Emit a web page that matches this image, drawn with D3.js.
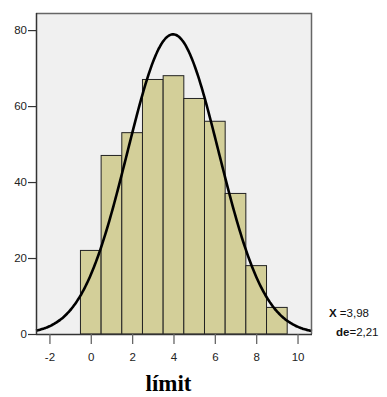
<!DOCTYPE html>
<html>
<head>
<meta charset="utf-8">
<script src="https://cdn.jsdelivr.net/npm/d3@7"></script>
<style>
  body { margin: 0; background: #fff; }
  svg { display: block; }
</style>
</head>
<body>
<svg id="chart"></svg>
<script>
const width = 387;
const height = 397;

// histogram bins (centres) and counts
const binCenters = [0, 1, 2, 3, 4, 5, 6, 7, 8, 9];
const counts = [22, 47, 53, 67, 68, 62, 56, 37, 18, 7];
const xTicks = [-2, 0, 2, 4, 6, 8, 10];
const yTicks = [0, 20, 40, 60, 80];
const mean = 3.98;
const sd = 2.21;
const meanLabel = '3,98';
const sdLabel = '2,21';
const title = 'límit';

const plot = { left: 36, right: 312, top: 13, bottom: 334 };

const svg = d3.select('#chart').attr('width', width).attr('height', height);

const x = d3.scaleLinear().domain([-2.65, 10.7]).range([plot.left, plot.right]);
const y = d3.scaleLinear().domain([0, 84.5]).range([plot.bottom, plot.top]);

// plot background
svg.append('rect')
  .attr('x', plot.left).attr('y', plot.top)
  .attr('width', plot.right - plot.left).attr('height', plot.bottom - plot.top)
  .attr('fill', '#f0f0f0');

// bars
svg.selectAll('rect.bar').data(binCenters).enter().append('rect')
  .attr('class', 'bar')
  .attr('x', d => x(d - 0.5))
  .attr('width', d => x(d + 0.5) - x(d - 0.5))
  .attr('y', (d, i) => y(counts[i]))
  .attr('height', (d, i) => y(0) - y(counts[i]))
  .attr('fill', '#d3cf99')
  .attr('stroke', '#222')
  .attr('stroke-width', 1);

// fitted normal curve
const total = d3.sum(counts);
const pdf = v => total * Math.exp(-0.5 * ((v - mean) / sd) ** 2) / (sd * Math.sqrt(2 * Math.PI));
const curveX = d3.range(x.domain()[0], x.domain()[1] + 0.001, 0.05);
svg.append('path')
  .datum(curveX)
  .attr('fill', 'none')
  .attr('stroke', '#000')
  .attr('stroke-width', 2.6)
  .attr('d', d3.line().x(d => x(d)).y(d => y(pdf(d))).curve(d3.curveBasis));

// frame: top and right grey
svg.append('path')
  .attr('d', `M${plot.left},${plot.top + 0.5}H${plot.right - 0.5}V${plot.bottom}`)
  .attr('fill', 'none')
  .attr('stroke', '#666')
  .attr('stroke-width', 1.5);

// axes
const fmt = d => String(d);
const xAxis = svg.append('g')
  .attr('transform', `translate(0,${plot.bottom})`)
  .call(d3.axisBottom(x).tickValues(xTicks).tickFormat(fmt).tickSize(10).tickPadding(9).tickSizeOuter(0));
const yAxis = svg.append('g')
  .attr('transform', `translate(${plot.left},0)`)
  .call(d3.axisLeft(y).tickValues(yTicks).tickFormat(fmt).tickSize(8).tickPadding(1).tickSizeOuter(0));

[xAxis, yAxis].forEach(g => {
  g.select('.domain').attr('stroke', '#333').attr('stroke-width', 1.5);
  g.selectAll('.tick text')
    .attr('font-family', 'Liberation Sans, Arial, sans-serif')
    .attr('font-size', 11.5)
    .attr('fill', '#222');
});
xAxis.selectAll('.tick line').attr('stroke', '#666').attr('stroke-width', 1.3);
yAxis.selectAll('.tick line').attr('stroke', '#333').attr('stroke-width', 1.2);
xAxis.select('.domain').attr('d', `M${plot.left},0.5H${plot.right}`);
yAxis.select('.domain').attr('d', `M0.5,${plot.top}V${plot.bottom}`);

// title
svg.append('text')
  .attr('x', 168.5).attr('y', 391)
  .attr('text-anchor', 'middle')
  .attr('font-family', 'Liberation Serif, Times New Roman, serif')
  .attr('font-weight', 'bold')
  .attr('font-size', 23)
  .attr('fill', '#000')
  .text(title);

// statistics
const stats = svg.append('g')
  .attr('font-family', 'Liberation Sans, Arial, sans-serif')
  .attr('font-size', 11.5)
  .attr('fill', '#111');
const t1 = stats.append('text').attr('x', 329).attr('y', 317);
t1.append('tspan').attr('font-weight', 'bold').text('X');
t1.append('tspan').text(' =' + meanLabel);
const t2 = stats.append('text').attr('x', 336).attr('y', 336);
t2.append('tspan').attr('font-weight', 'bold').text('de');
t2.append('tspan').text('=' + sdLabel);
</script>
</body>
</html>
